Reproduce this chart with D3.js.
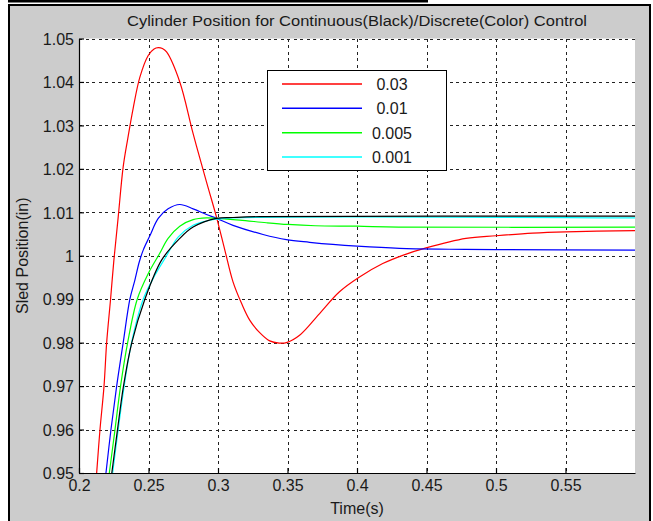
<!DOCTYPE html>
<html>
<head>
<meta charset="utf-8">
<script src="https://cdn.jsdelivr.net/npm/d3@7"></script>
<style>
  html, body { margin: 0; padding: 0; background: #ffffff; }
  svg { display: block; }
  text { font-family: "Liberation Sans", Arial, sans-serif; fill: #1a1a1a; }
</style>
</head>
<body>
<svg id="chart" width="653" height="521"></svg>
<script>
// ---- Data ----
const titleText = "Cylinder Position for Continuous(Black)/Discrete(Color) Control";
const xLabel = "Time(s)";
const yLabel = "Sled Position(in)";
const xTicks = [0.2, 0.25, 0.3, 0.35, 0.4, 0.45, 0.5, 0.55];
const xTickLabels = ["0.2", "0.25", "0.3", "0.35", "0.4", "0.45", "0.5", "0.55"];
const yTicks = [0.95, 0.96, 0.97, 0.98, 0.99, 1.0, 1.01, 1.02, 1.03, 1.04, 1.05];
const yTickLabels = ["0.95", "0.96", "0.97", "0.98", "0.99", "1", "1.01", "1.02", "1.03", "1.04", "1.05"];

const seriesNames = ["0.03", "0.01", "0.005", "0.001"];
const seriesColors = ["#ff0000", "#0000ff", "#00ff00", "#00ffff"];

const t003 = [0.2127, 0.2151, 0.2180, 0.2199, 0.2227, 0.2251, 0.2282, 0.2318, 0.2350, 0.2390, 0.2438, 0.2498, 0.2540, 0.2570, 0.2600, 0.2630, 0.2725, 0.2821, 0.2917, 0.2989, 0.3050, 0.3108, 0.3170, 0.3228, 0.3300, 0.3372, 0.3440, 0.3492, 0.3587, 0.3731, 0.3874, 0.4018, 0.4185, 0.4329, 0.4497, 0.4784, 0.5000, 0.5263, 0.5502, 0.6000];
const v003 = [0.950, 0.960, 0.970, 0.980, 0.990, 0.999, 1.0089, 1.0205, 1.0268, 1.0340, 1.0411, 1.0461, 1.0476, 1.0479, 1.0477, 1.0469, 1.0400, 1.0281, 1.0170, 1.0089, 1.0012, 0.9940, 0.9890, 0.9852, 0.9823, 0.9804, 0.9799, 0.9800, 0.9817, 0.9867, 0.9917, 0.9951, 0.9982, 1.0001, 1.0018, 1.0040, 1.0046, 1.0052, 1.0055, 1.0058];

const t001 = [0.2194, 0.2230, 0.2271, 0.2318, 0.2366, 0.2402, 0.2433, 0.2462, 0.2510, 0.2570, 0.2641, 0.2725, 0.2821, 0.2917, 0.2989, 0.3108, 0.3324, 0.3492, 0.3659, 0.3826, 0.4001, 0.4305, 0.4664, 0.5000, 0.6000];
const v001 = [0.950, 0.960, 0.970, 0.980, 0.990, 0.9944, 0.9985, 1.0013, 1.0046, 1.0086, 1.0108, 1.0118, 1.0108, 1.0095, 1.0086, 1.0070, 1.0049, 1.0037, 1.0031, 1.0026, 1.0022, 1.0017, 1.0015, 1.0014, 1.0013];

const t0005 = [0.2218, 0.2259, 0.2299, 0.2350, 0.2419, 0.2500, 0.2580, 0.2641, 0.2725, 0.2821, 0.2917, 0.2989, 0.3156, 0.3348, 0.3503, 0.3700, 0.4000, 0.4300, 0.6000];
const v0005 = [0.950, 0.960, 0.970, 0.980, 0.990, 0.9960, 1.0005, 1.0040, 1.0068, 1.0083, 1.0087, 1.0086, 1.0082, 1.0076, 1.0072, 1.0069, 1.0068, 1.0066, 1.0066];

const t0001 = [0.2242, 0.2282, 0.2325, 0.2378, 0.2462, 0.2546, 0.2630, 0.2713, 0.2821, 0.2917, 0.2989, 0.3100, 0.6000];
const v0001 = [0.950, 0.960, 0.970, 0.980, 0.990, 0.9955, 1.0000, 1.0043, 1.0070, 1.0080, 1.0084, 1.0087, 1.0087];

const tCont = [0.2236, 0.2277, 0.2320, 0.2380, 0.2474, 0.2594, 0.2725, 0.2821, 0.2989, 0.3108, 0.3300, 0.6000];
const vCont = [0.950, 0.960, 0.970, 0.980, 0.990, 0.999, 1.0040, 1.0066, 1.0086, 1.0088, 1.0090, 1.0091];

// ---- Build ----
const svg = d3.select("#chart");
const plot = { left: 79, right: 635, top: 38.5, bottom: 473 };

const x = d3.scaleLinear().domain([0.2, 0.6]).range([plot.left, plot.right]);
const y = d3.scaleLinear().domain([0.95, 1.05]).range([plot.bottom, plot.top]);

// Figure background and frame
svg.append("rect").attr("x", 9).attr("y", 5).attr("width", 641).attr("height", 520)
  .attr("fill", "#cccccc").attr("stroke", "#000").attr("stroke-width", 2);
svg.append("rect").attr("x", 8).attr("y", 0).attr("width", 420).attr("height", 2.5).attr("fill", "#000");

// Plot area
svg.append("rect").attr("x", plot.left).attr("y", plot.top)
  .attr("width", plot.right - plot.left).attr("height", plot.bottom - plot.top)
  .attr("fill", "#ffffff");

// Grid
const grid = svg.append("g").attr("stroke", "#222").attr("stroke-width", 1).attr("stroke-dasharray", "3,3.5").attr("shape-rendering", "crispEdges");
grid.selectAll(".gx").data(xTicks.slice(1)).enter().append("line")
  .attr("x1", d => Math.round(x(d)) + 0.5).attr("x2", d => Math.round(x(d)) + 0.5)
  .attr("y1", plot.top).attr("y2", plot.bottom);
grid.selectAll(".gy").data(yTicks).enter().append("line")
  .attr("y1", d => Math.round(y(d)) + 0.5).attr("y2", d => Math.round(y(d)) + 0.5)
  .attr("x1", plot.left).attr("x2", plot.right);

// Axes (box off: left and bottom only, ticks inward)
const xAxis = d3.axisBottom(x).tickValues(xTicks).tickFormat((d, i) => xTickLabels[i]).tickSizeInner(-5).tickSizeOuter(0).tickPadding(12);
const yAxis = d3.axisLeft(y).tickValues(yTicks).tickFormat((d, i) => yTickLabels[i]).tickSizeInner(-5).tickSizeOuter(0).tickPadding(10);

const gx = svg.append("g").attr("transform", `translate(0,${plot.bottom})`).call(xAxis);
const gy = svg.append("g").attr("transform", `translate(${plot.left},0)`).call(yAxis);
[gx, gy].forEach(g => {
  g.selectAll("path, line").attr("stroke", "#000").attr("stroke-width", 1.2);
  g.selectAll("text").attr("font-size", 16).attr("fill", "#1a1a1a")
    .attr("font-family", "'Liberation Sans', Arial, sans-serif");
});
gx.selectAll("text").attr("dy", "0.71em").attr("y", 7);
gy.selectAll("text").attr("x", -5).attr("dy", "0.36em");

// Clip
svg.append("clipPath").attr("id", "clip").append("rect")
  .attr("x", plot.left).attr("y", plot.top)
  .attr("width", plot.right - plot.left).attr("height", plot.bottom - plot.top);

const line = d3.line().x(d => x(d[0])).y(d => y(d[1])).curve(d3.curveCatmullRom.alpha(0.5));
const series = [
  { t: t003, v: v003, c: seriesColors[0] },
  { t: t001, v: v001, c: seriesColors[1] },
  { t: t0005, v: v0005, c: seriesColors[2] },
  { t: t0001, v: v0001, c: seriesColors[3] },
  { t: tCont, v: vCont, c: "#000000" }
];
const lines = svg.append("g").attr("clip-path", "url(#clip)");
series.forEach(s => {
  lines.append("path").datum(d3.zip(s.t, s.v))
    .attr("fill", "none").attr("stroke", s.c).attr("stroke-width", 1.2)
    .attr("d", line);
});

// Legend
const lg = svg.append("g");
lg.append("rect").attr("x", 267.5).attr("y", 70.5).attr("width", 179).attr("height", 100)
  .attr("fill", "#fff").attr("stroke", "#000").attr("stroke-width", 1);
const rowY = d3.scaleLinear().domain([0, 3]).range([84, 157]);
seriesNames.forEach((n, i) => {
  lg.append("line").attr("x1", 282).attr("x2", 362)
    .attr("y1", rowY(i)).attr("y2", rowY(i))
    .attr("stroke", seriesColors[i]).attr("stroke-width", 1.5);
  lg.append("text").attr("x", 392).attr("y", rowY(i) + 6)
    .attr("text-anchor", "middle").attr("font-size", 16).text(n);
});

// Title and labels
svg.append("text").attr("x", 357).attr("y", 26).attr("text-anchor", "middle")
  .attr("font-size", 15.5).attr("textLength", 460).attr("lengthAdjust", "spacingAndGlyphs")
  .text(titleText);
svg.append("text").attr("x", 357).attr("y", 514).attr("text-anchor", "middle")
  .attr("font-size", 16).text(xLabel);
svg.append("text").attr("transform", `translate(28,${(plot.top + plot.bottom) / 2}) rotate(-90)`)
  .attr("text-anchor", "middle").attr("font-size", 16).text(yLabel);
</script>
</body>
</html>
